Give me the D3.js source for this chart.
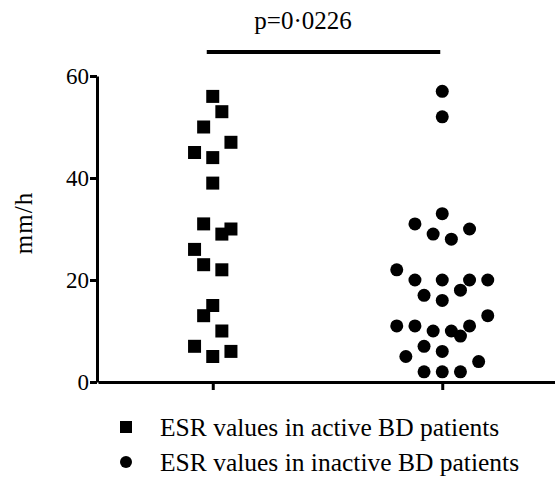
<!DOCTYPE html>
<html>
<head>
  <meta charset="utf-8">
  <script src="https://d3js.org/d3.v7.min.js"></script>
  <style>
    body { margin: 0; background: #fff; }
  </style>
</head>
<body>
<div id="chart"></div>
<script>
// data
var groups = ["active", "inactive"];
var activeValues   = [56, 53, 50, 47, 45, 44, 39, 31, 30, 29, 26, 23, 22, 15, 13, 10, 7, 6, 5];
var activeLanes    = [0, 1, -1, 2, -2, 0, 0, -1, 2, 1, -2, -1, 1, 0, -1, 1, -2, 2, 0];
var inactiveValues = [57, 52, 33, 31, 30, 29, 28, 22, 20, 20, 20, 20, 17, 18, 16, 13, 11, 11, 11, 10, 10, 9, 7, 6, 5, 4, 2, 2, 2];
var inactiveLanes  = [0, 0, 0, -3, 3, -1, 1, -5, -3, 0, 3, 5, -2, 2, 0, 5, -5, -3, 3, -1, 1, 2, -2, 0, -4, 4, -2, 0, 2];
var yTicks = [0, 20, 40, 60];
var pLabel = "p=0·0226";
var legendLabels = ["ESR values in active BD patients", "ESR values in inactive BD patients"];

var width = 555, height = 477;
var font = "Liberation Serif";

var svg = d3.select("#chart")
  .append("svg")
    .attr("width", width)
    .attr("height", height)
    .style("font-family", font);

// scales
var y = d3.scaleLinear()
  .domain([0, 60])
  .range([382, 76]);

var x = d3.scalePoint()
  .domain(groups)
  .range([98, 557])
  .padding(0.5);

var lane = d3.scaleLinear()
  .domain([0, 1])
  .range([0, 9.1]);

// Y axis
var yAxis = svg.append("g")
  .attr("transform", "translate(97,0)")
  .call(d3.axisLeft(y).tickValues(yTicks).tickSize(7).tickSizeOuter(0).tickPadding(1));
yAxis.attr("font-family", font);
yAxis.select(".domain").attr("stroke-width", 3);
yAxis.selectAll(".tick line").attr("stroke-width", 3);
yAxis.selectAll(".tick text")
  .attr("font-family", font)
  .attr("font-size", 23);

// X axis
var xAxis = svg.append("g")
  .attr("transform", "translate(0,382)")
  .call(d3.axisBottom(x).tickSize(8).tickSizeOuter(0).tickFormat(""));
xAxis.select(".domain").attr("stroke-width", 3);
xAxis.selectAll(".tick line").attr("stroke-width", 3);

// Y label
svg.append("text")
  .attr("transform", "rotate(-90)")
  .attr("x", -223)
  .attr("y", 32)
  .attr("text-anchor", "middle")
  .attr("font-family", font)
  .attr("font-size", 25)
  .style("letter-spacing", "1px")
  .text("mm/h");

// significance bar
svg.append("line")
  .attr("x1", x("active") - 6)
  .attr("x2", x("inactive") - 2)
  .attr("y1", 52)
  .attr("y2", 52)
  .attr("stroke", "#000")
  .attr("stroke-width", 4);

svg.append("text")
  .attr("x", 303)
  .attr("y", 29)
  .attr("text-anchor", "middle")
  .attr("font-family", font)
  .attr("font-size", 25)
  .text(pLabel);

// squares
var sq = 13;
svg.append("g")
  .selectAll("rect")
  .data(activeValues)
  .enter()
  .append("rect")
    .attr("x", function (d, i) { return x("active") + lane(activeLanes[i]) - sq / 2; })
    .attr("y", function (d) { return y(d) - sq / 2; })
    .attr("width", sq)
    .attr("height", sq)
    .attr("fill", "#000");

// circles
svg.append("g")
  .selectAll("circle")
  .data(inactiveValues)
  .enter()
  .append("circle")
    .attr("cx", function (d, i) { return x("inactive") + lane(inactiveLanes[i]); })
    .attr("cy", function (d) { return y(d); })
    .attr("r", 6.5)
    .attr("fill", "#000");

// legend
var legend = svg.append("g");
legend.append("rect")
  .attr("x", 120).attr("y", 421)
  .attr("width", 12).attr("height", 12)
  .attr("fill", "#000");
legend.append("circle")
  .attr("cx", 126).attr("cy", 462)
  .attr("r", 6)
  .attr("fill", "#000");
legend.selectAll("text")
  .data(legendLabels)
  .enter()
  .append("text")
    .attr("x", 160)
    .attr("y", function (d, i) { return 436 + i * 35; })
    .attr("font-family", font)
    .attr("font-size", 25.5)
    .text(function (d) { return d; });
</script>
</body>
</html>
